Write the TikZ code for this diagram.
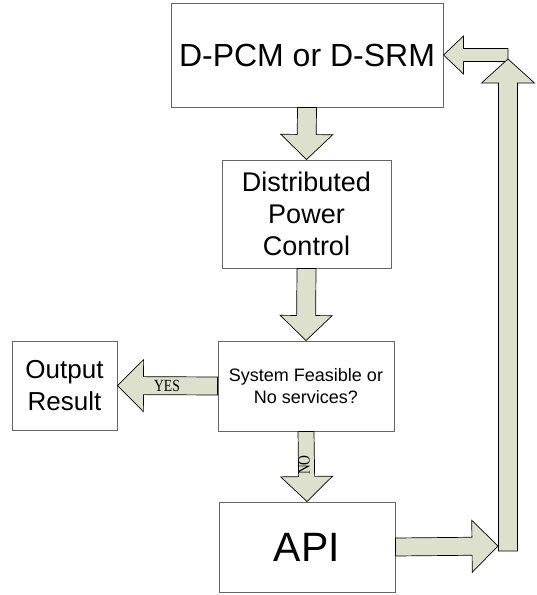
\documentclass[tikz,border=0pt]{standalone}
\usepackage{fontspec}
\setmainfont{Liberation Sans}
\newfontfamily\tagfont{Liberation Serif}
\usetikzlibrary{calc}
\definecolor{arrfill}{RGB}{220,224,204}
% block arrow: from, tip, shaft half width, head half width, head length
\newcommand{\fatarr}[5]{%
\coordinate (hb) at ($(#2)!#5!(#1)$);
\draw[fat] ($(#1)!#3!90:(#2)$) -- ($(hb)!#3!90:(#2)$) -- ($(hb)!#4!90:(#2)$) -- (#2)
 -- ($(hb)!#4!-90:(#2)$) -- ($(hb)!#3!-90:(#2)$) -- ($(#1)!#3!-90:(#2)$) -- cycle;}

\begin{document}
\begin{tikzpicture}[x=1pt,y=1pt,
 box/.style={draw=black!60, line width=1pt, fill=white, align=center, inner sep=0pt},
 fat/.style={draw=black, line width=0.7pt, fill=arrfill, line join=miter},
 tag/.style={font=\tagfont\fontsize{17}{17}\selectfont, inner sep=0pt}]
\useasboundingbox (0,0) rectangle (537,-595);
\node[box, minimum width=272pt, minimum height=104pt, font=\fontsize{32}{38}\selectfont] (dpcm) at (307,-55) {D-PCM or D-SRM};
\node[box, minimum width=169pt, minimum height=108pt, font=\fontsize{27}{32}\selectfont] (dpc) at (306.5,-214) {Distributed\\Power\\Control};
\node[box, minimum width=176pt, minimum height=90pt, font=\fontsize{18}{22}\selectfont] (sys) at (306,-386) {System Feasible or\\No services?};
\node[box, minimum width=105pt, minimum height=89pt, font=\fontsize{26}{32}\selectfont] (out) at (64.5,-385.5) {Output\\Result};
\node[box, minimum width=176pt, minimum height=90pt, font=\fontsize{41}{41}\selectfont] (api) at (307,-547) {API};
\coordinate (barin) at (498,-546);
\coordinate (barfoot) at (508,-551);
\coordinate (bartop) at (508,-59);
\coordinate (barjoin) at (508,-55);
% arrows
\fatarr{dpcm.south}{dpc.north}{9.5pt}{26pt}{25pt}
\fatarr{dpc.south}{sys.north}{9.5pt}{26pt}{25pt}
\fatarr{sys.west}{out.east}{9pt}{26pt}{26pt}
\fatarr{sys.south}{api.north}{8pt}{26pt}{25pt}
\fatarr{api.east}{barin}{9pt}{26pt}{26pt}
\fatarr{barjoin}{dpcm.east}{6.5pt}{19pt}{20pt}
\fatarr{barfoot}{bartop}{9.5pt}{26.5pt}{24pt}
\node[tag] (yes) at (167,-386) {\scalebox{0.8}[1]{YES}};
\node[tag, rotate=90] (no) at (304,-465) {\scalebox{0.8}[1]{NO}};
\end{tikzpicture}
\end{document}
